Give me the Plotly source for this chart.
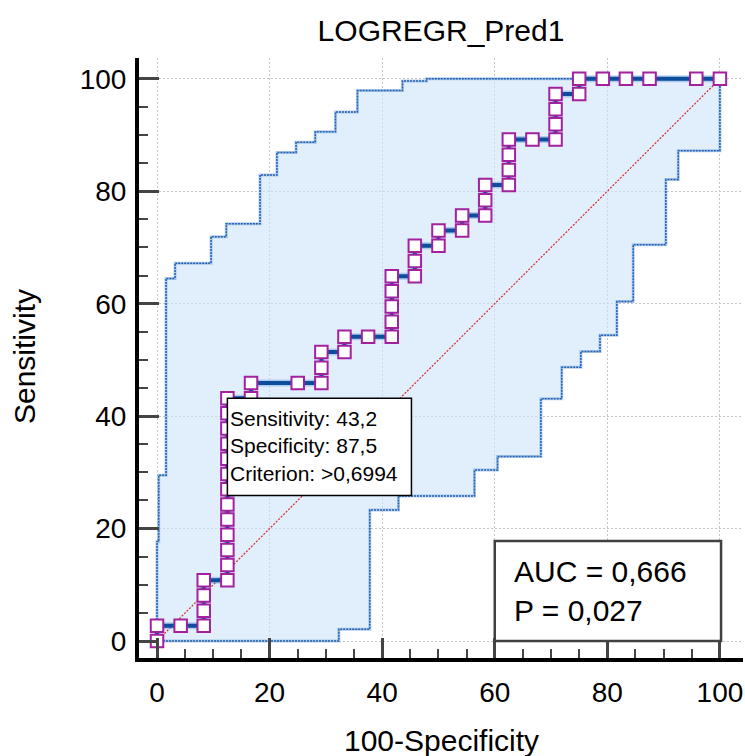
import plotly.graph_objects as go

# ROC curve points (100-Specificity, Sensitivity)
roc_fpr = [0, 0, 4.2, 8.3, 8.3, 8.3, 8.3, 12.5, 12.5, 12.5, 12.5, 12.5, 12.5, 12.5,
           12.5, 12.5, 12.5, 12.5, 12.5, 12.5, 16.7, 16.7, 25.0, 29.2, 29.2, 29.2,
           33.3, 33.3, 37.5, 41.7, 41.7, 41.7, 41.7, 41.7, 45.8, 45.8, 45.8, 50.0,
           50.0, 54.2, 54.2, 58.3, 58.3, 58.3, 62.5, 62.5, 62.5, 62.5, 66.7, 70.8,
           70.8, 70.8, 70.8, 75.0, 75.0, 79.2, 83.3, 87.5, 95.8, 100]
roc_sens = [0, 2.7, 2.7, 2.7, 5.4, 8.1, 10.8, 10.8, 13.5, 16.2, 18.9, 21.6, 24.3, 27.0,
            29.7, 32.4, 35.1, 37.8, 40.5, 43.2, 43.2, 45.9, 45.9, 45.9, 48.6, 51.4,
            51.4, 54.1, 54.1, 54.1, 56.8, 59.5, 62.2, 64.9, 64.9, 67.6, 70.3, 70.3,
            73.0, 73.0, 75.7, 75.7, 78.4, 81.1, 81.1, 83.8, 86.5, 89.2, 89.2, 89.2,
            91.9, 94.6, 97.3, 97.3, 100, 100, 100, 100, 100, 100]

# 95% confidence bounds (step lines)
upper_x = [0, 0, 0.3, 0.3, 1.6, 1.6, 3.2, 3.2, 9.6, 9.6, 12.3, 12.3, 18.3, 18.3,
           21.3, 21.3, 24.7, 24.7, 28.1, 28.1, 31.7, 31.7, 35.6, 35.6, 43.6, 43.6,
           47.9, 47.9, 100]
upper_y = [0, 17.7, 17.7, 29.5, 29.5, 64.5, 64.5, 67.2, 67.2, 71.9, 71.9, 74.2, 74.2,
           82.9, 82.9, 86.9, 86.9, 88.7, 88.7, 90.6, 90.6, 94.1, 94.1, 97.9, 97.9,
           99.6, 99.6, 100, 100]
lower_x = [0, 32.3, 32.3, 37.8, 37.8, 42.9, 42.9, 56.4, 56.4, 60.5, 60.5, 68.2, 68.2,
           71.9, 71.9, 75.3, 75.3, 78.7, 78.7, 81.7, 81.7, 84.6, 84.6, 90.4, 90.4,
           92.6, 92.6, 100, 100]
lower_y = [0, 0, 2.1, 2.1, 23.3, 23.3, 25.8, 25.8, 30.4, 30.4, 32.8, 32.8, 43.1,
           43.1, 48.7, 48.7, 51.5, 51.5, 54.4, 54.4, 60.4, 60.4, 70.5, 70.5, 82.1,
           82.1, 87.2, 87.2, 100]

diag_x = [0, 100]
diag_y = [0, 100]

tick_vals = [0, 20, 40, 60, 80, 100]

title_text = "LOGREGR_Pred1"
x_title = "100-Specificity"
y_title = "Sensitivity"

crit_sens = 43.2
crit_spec = 87.5
crit_label = ">0,6994"
auc_text = "AUC = 0,666"
p_text = "P = 0,027"

FONT = "Liberation Sans, Arial, sans-serif"

W, H = 745, 756

fig = go.Figure()

# confidence band fill
fig.add_trace(go.Scatter(
    x=upper_x + lower_x[::-1], y=upper_y + lower_y[::-1],
    mode="lines", fill="toself", fillcolor="rgba(205,228,250,0.6)",
    line=dict(width=0), hoverinfo="skip", showlegend=False))

# band borders
for bx, by in ((upper_x, upper_y), (lower_x, lower_y)):
    fig.add_trace(go.Scatter(
        x=bx, y=by, mode="lines",
        line=dict(color="rgba(120,165,215,0.55)", width=3),
        hoverinfo="skip", showlegend=False))
    fig.add_trace(go.Scatter(
        x=bx, y=by, mode="lines",
        line=dict(color="#1f5fb5", width=1.5, dash="2px,1px"),
        hoverinfo="skip", showlegend=False))

# diagonal reference
fig.add_trace(go.Scatter(
    x=diag_x, y=diag_y, mode="lines",
    line=dict(color="#d42a2a", width=1.2, dash="2px,1.5px"),
    hoverinfo="skip", showlegend=False))

# ROC curve (soft shadow + line with markers)
fig.add_trace(go.Scatter(
    x=roc_fpr, y=roc_sens, mode="lines",
    line=dict(color="rgba(110,160,215,0.45)", width=7),
    hoverinfo="skip", showlegend=False))
fig.add_trace(go.Scatter(
    x=roc_fpr, y=roc_sens, mode="lines+markers",
    line=dict(color="#0b4e9c", width=4),
    marker=dict(symbol="square", size=12.5, color="white",
                line=dict(color="#a3209f", width=2)),
    showlegend=False))

crit_x = 100 - crit_spec
shapes = [
    dict(type="rect", xref="x", yref="y", x0=crit_x, x1=crit_x + 32.7,
         y0=crit_sens - 17.3, y1=crit_sens, layer="above",
         fillcolor="white", line=dict(color="black", width=1.5)),
    dict(type="rect", xref="x", yref="y", x0=60, x1=100.2, y0=0, y1=17.8,
         layer="above", fillcolor="white", line=dict(color="#404040", width=2.5)),
]

annotations = [
    dict(xref="x", yref="y", x=crit_x, y=crit_sens - 8.6, xanchor="left",
         yanchor="middle", xshift=1, showarrow=False, align="left",
         text=f"Sensitivity: {str(crit_sens).replace('.', ',')}<br>"
              f"Specificity: {str(crit_spec).replace('.', ',')}<br>"
              f"Criterion: {crit_label}",
         font=dict(family=FONT, size=21, color="black")),
    dict(xref="x", yref="y", x=63.0, y=8.9, xanchor="left", yanchor="middle",
         showarrow=False, align="left", text=f"{auc_text}<br>{p_text}",
         font=dict(family=FONT, size=30, color="black")),
    dict(xref="paper", yref="paper", x=0.5, y=-0.1367, xanchor="center",
         yanchor="middle", showarrow=False, text=x_title,
         font=dict(family=FONT, size=30, color="black")),
    dict(xref="paper", yref="paper", x=-0.1887, y=0.5017, xanchor="center",
         yanchor="middle", showarrow=False, text=y_title, textangle=-90,
         font=dict(family=FONT, size=30, color="black")),
]

axis_common = dict(
    showline=True, linewidth=4, linecolor="black", mirror=False,
    showgrid=True, gridcolor="#c4c4c4", gridwidth=1, griddash="2px,2px",
    zeroline=False, ticks="inside", ticklen=20, tickwidth=2.5, tickcolor="#444444",
    tickvals=tick_vals, tickfont=dict(family=FONT, size=28, color="black"),
    ticklabeloverflow="allow",
    minor=dict(dtick=5, tick0=0, ticks="inside", ticklen=9, tickwidth=2,
               tickcolor="#444444", showgrid=False),
    fixedrange=True,
)

fig.update_layout(
    width=W, height=H,
    margin=dict(l=139, r=2, t=58, b=98),
    paper_bgcolor="white", plot_bgcolor="white",
    title=dict(text=title_text, x=0.5, xref="paper", y=1 - 30 / H,
               yref="container", xanchor="center", yanchor="middle",
               font=dict(family=FONT, size=30, color="black")),
    xaxis=dict(range=[-3.2, 104.1], ticklabelstandoff=6, **axis_common),
    yaxis=dict(range=[-3.02, 103.7], ticklabelstandoff=3, **axis_common),
    shapes=shapes, annotations=annotations,
    showlegend=False,
)

fig.write_html(
    "out.html",
    config={"displayModeBar": False},
    post_script="document.body.style.margin='0';document.body.style.overflow='hidden';",
)
